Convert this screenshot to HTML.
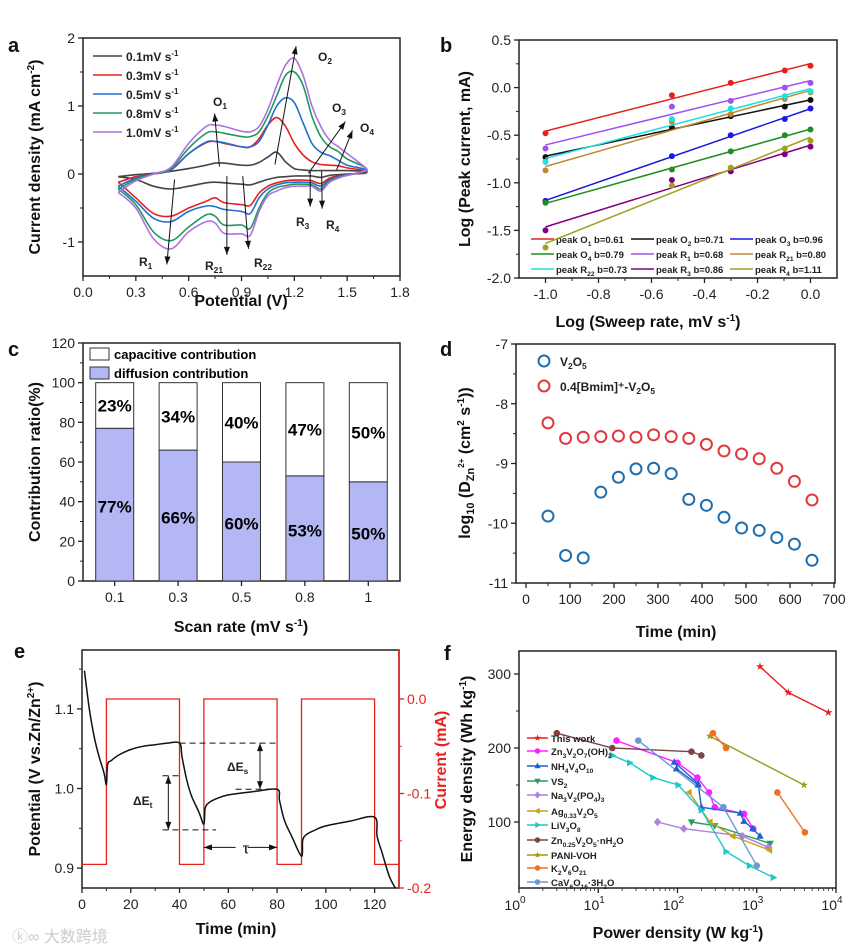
<!DOCTYPE html>
<html><head><meta charset="utf-8"><style>
html,body{margin:0;padding:0;background:#fff}
svg{display:block;font-family:"Liberation Sans","Noto Sans CJK SC",sans-serif}
.tk{font-size:14px;fill:#222}
.at{font-size:16px;font-weight:bold;fill:#111}
.pl{font-size:20px;font-weight:bold;fill:#111}
.lg{font-size:12px;font-weight:bold;fill:#222}
.ls{font-size:9.5px;font-weight:bold;fill:#222}
</style></head><body>
<svg id="fig" width="860" height="950" viewBox="0 0 860 950">
<text x="8" y="52" class="pl">a</text>
<text x="440" y="52" class="pl">b</text>
<text x="8" y="356" class="pl">c</text>
<text x="440" y="356" class="pl">d</text>
<text x="14" y="658" class="pl">e</text>
<text x="444" y="660" class="pl">f</text>

<text class="at" transform="translate(40,157) rotate(-90)" text-anchor="middle">Current density (mA cm<tspan font-size="10" dy="-6">-2</tspan><tspan dy="6">)</tspan></text>
<text class="at" x="241" y="306" text-anchor="middle">Potential (V)</text>
<text class="at" transform="translate(470,159) rotate(-90)" text-anchor="middle">Log (Peak current, mA)</text>
<text class="at" x="648" y="327" text-anchor="middle">Log (Sweep rate, mV s<tspan font-size="10" dy="-6">-1</tspan><tspan dy="6">)</tspan></text>
<text class="at" transform="translate(40,462) rotate(-90)" text-anchor="middle">Contribution ratio(%)</text>
<text class="at" x="241" y="632" text-anchor="middle">Scan rate (mV s<tspan font-size="10" dy="-6">-1</tspan><tspan dy="6">)</tspan></text>
<text class="at" transform="translate(470,463) rotate(-90)" text-anchor="middle">log<tspan font-size="11" dy="4">10</tspan><tspan dy="-4"> (D</tspan><tspan font-size="11" dy="4">Zn</tspan><tspan font-size="8" dy="-10">2+</tspan><tspan dy="6"> (cm</tspan><tspan font-size="10" dy="-6">2</tspan><tspan dy="6"> s</tspan><tspan font-size="10" dy="-6">-1</tspan><tspan dy="6">))</tspan></text>
<text class="at" x="676" y="637" text-anchor="middle">Time (min)</text>
<text class="at" transform="translate(40,769) rotate(-90)" text-anchor="middle">Potential (V vs.Zn/Zn<tspan font-size="10" dy="-6">2+</tspan><tspan dy="6">)</tspan></text>
<text class="at" transform="translate(446,760) rotate(-90)" text-anchor="middle" style="fill:#e8201c">Current (mA)</text>
<text class="at" x="236" y="934" text-anchor="middle">Time (min)</text>
<text class="at" transform="translate(472,769) rotate(-90)" text-anchor="middle">Energy density (Wh kg<tspan font-size="10" dy="-6">-1</tspan><tspan dy="6">)</tspan></text>
<text class="at" x="678" y="938" text-anchor="middle">Power density (W kg<tspan font-size="10" dy="-6">-1</tspan><tspan dy="6">)</tspan></text>
<text x="12" y="942" font-size="16" fill="#ccc">ⓚ∞ 大数跨境</text>
</svg>
<script>
// ---------- DATA ----------
// panel a
const cvE = [0.2,0.3,0.4,0.5,0.6,0.7,0.75,0.8,0.9,0.95,1.0,1.05,1.1,1.15,1.2,1.25,1.3,1.35,1.4,1.45,1.5,1.6];
const cvRates = ["0.1mV s","0.3mV s","0.5mV s","0.8mV s","1.0mV s"];
const cvAnodic01 = [-0.04,-0.01,0.01,0.04,0.08,0.13,0.16,0.16,0.13,0.13,0.17,0.25,0.32,0.18,0.08,0.06,0.05,0.05,0.05,0.05,0.05,0.04];
const cvCathodic01 = [-0.04,-0.08,-0.18,-0.22,-0.18,-0.13,-0.12,-0.13,-0.15,-0.16,-0.12,-0.08,-0.05,-0.04,-0.03,-0.03,-0.03,-0.05,-0.02,-0.01,0.0,0.01];
const cvAnodic03 = [-0.12,-0.04,0.0,0.06,0.30,0.46,0.48,0.45,0.40,0.40,0.52,0.72,0.83,0.70,0.45,0.28,0.18,0.14,0.13,0.12,0.09,0.05];
const cvCathodic03 = [-0.12,-0.35,-0.58,-0.62,-0.50,-0.40,-0.35,-0.42,-0.45,-0.46,-0.28,-0.18,-0.13,-0.10,-0.09,-0.09,-0.10,-0.14,-0.06,-0.03,-0.01,0.02];
const cvAnodic05 = [-0.18,-0.06,0.0,0.06,0.30,0.47,0.48,0.46,0.40,0.40,0.48,0.72,1.00,1.12,1.05,0.75,0.45,0.32,0.27,0.20,0.13,0.07];
const cvCathodic05 = [-0.18,-0.40,-0.65,-0.70,-0.55,-0.47,-0.48,-0.52,-0.55,-0.58,-0.35,-0.22,-0.16,-0.13,-0.12,-0.12,-0.13,-0.18,-0.08,-0.04,-0.01,0.03];
const cvAnodic08 = [-0.22,-0.08,0.0,0.08,0.38,0.60,0.62,0.60,0.55,0.55,0.62,0.85,1.15,1.45,1.50,1.30,0.85,0.55,0.40,0.33,0.22,0.10];
const cvCathodic08 = [-0.22,-0.45,-0.85,-0.98,-0.78,-0.60,-0.62,-0.75,-0.75,-0.80,-0.50,-0.28,-0.20,-0.17,-0.15,-0.15,-0.16,-0.22,-0.10,-0.05,-0.02,0.04];
const cvAnodic10 = [-0.27,-0.10,0.0,0.10,0.45,0.70,0.72,0.70,0.63,0.62,0.70,0.95,1.30,1.60,1.70,1.45,1.0,0.70,0.50,0.40,0.30,0.10];
const cvCathodic10 = [-0.27,-0.50,-0.95,-1.10,-0.85,-0.70,-0.72,-0.87,-0.88,-0.90,-0.55,-0.32,-0.25,-0.20,-0.18,-0.18,-0.18,-0.25,-0.12,-0.06,-0.02,0.05];
const aXTicks = [0,0.3,0.6,0.9,1.2,1.5,1.8];
const aYTicks = [-1,0,1,2];
// panel b
const bLogRate = [-1,-0.523,-0.301,-0.097,0];
const bNames = ["peak O|1| b=0.61","peak O|2| b=0.71","peak O|3| b=0.96","peak O|4| b=0.79","peak R|1| b=0.68","peak R|21| b=0.80","peak R|22| b=0.73","peak R|3| b=0.86","peak R|4| b=1.11"];
const bO1 = [-0.48,-0.08,0.05,0.18,0.23];
const bO2 = [-0.73,-0.42,-0.30,-0.20,-0.13];
const bO3 = [-1.19,-0.72,-0.50,-0.33,-0.22];
const bO4 = [-1.21,-0.86,-0.67,-0.50,-0.44];
const bR1 = [-0.64,-0.20,-0.14,0.0,0.05];
const bR21 = [-0.87,-0.36,-0.28,-0.12,-0.05];
const bR22 = [-0.78,-0.33,-0.22,-0.09,-0.04];
const bR3 = [-1.50,-0.97,-0.88,-0.70,-0.62];
const bR4 = [-1.68,-1.03,-0.84,-0.64,-0.56];
const bXTicks = [-1.0,-0.8,-0.6,-0.4,-0.2,0.0];
const bYTicks = [0.5,0.0,-0.5,-1.0,-1.5,-2.0];
// panel c
const cCats = ["0.1","0.3","0.5","0.8","1"];
const cDiffusion = [77,66,60,53,50];
const cCapacitive = [23,34,40,47,50];
const cYTicks = [0,20,40,60,80,100,120];
// panel d
const dTime = [50,90,130,170,210,250,290,330,370,410,450,490,530,570,610,650];
const dV2O5 = [-9.88,-10.54,-10.58,-9.48,-9.23,-9.09,-9.08,-9.17,-9.60,-9.70,-9.90,-10.08,-10.12,-10.24,-10.35,-10.62];
const dBmim = [-8.32,-8.58,-8.56,-8.55,-8.54,-8.56,-8.52,-8.55,-8.58,-8.68,-8.79,-8.84,-8.92,-9.08,-9.30,-9.61];
const dXTicks = [0,100,200,300,400,500,600,700];
const dYTicks = [-7,-8,-9,-10,-11];
// panel e
const eTime = [1,3,5,7,9,10,10.5,12,15,20,25,30,35,40,41,43,45,48,50,50.5,52,55,60,70,80,81,83,86,90,90.5,92,95,100,110,120,121,123,126,128.5];
const ePotential = [1.148,1.10,1.065,1.04,1.02,1.005,1.03,1.035,1.042,1.049,1.053,1.055,1.057,1.057,1.04,1.01,0.99,0.97,0.955,0.975,0.982,0.987,0.992,0.996,0.999,0.985,0.96,0.94,0.915,0.935,0.942,0.947,0.953,0.959,0.964,0.94,0.92,0.89,0.875];
const eCurTime = [0,10,10,40,40,50,50,80,80,90,90,120,120,130];
const eCurrent = [-0.175,-0.175,0,0,-0.175,-0.175,0,0,-0.175,-0.175,0,0,-0.175,-0.175];
const eXTicks = [0,20,40,60,80,100,120];
const eYTicks = [0.9,1.0,1.1];
const eRTicks = [0.0,-0.1,-0.2];
// panel f
const fNames = ["This work","Zn|3|V|2|O|7|(OH)|2","NH|4|V|4|O|10","VS|2","Na|3|V|2|(PO|4|)|3","Ag|0.33|V|2|O|5","LiV|3|O|8","Zn|0.25|V|2|O|5|·nH|2|O","PANI-VOH","K|2|V|6|O|21","CaV|6|O|16|·3H|2|O"];
const fThisP = [1100,2500,8000], fThisE = [310,275,248];
const fZnVP = [17,100,178,250,295,690,905], fZnVE = [210,180,160,140,120,111,91];
const fNH4P = [91,182,200,620,690,890,1100], fNH4E = [181,152,120,112,101,91,81];
const fNH4bP = [97,182], fNH4bE = [172,150];
const fVS2P = [150,295,1480], fVS2E = [100,95,71];
const fNaVP = [56,120,660,1400], fNaVE = [100,91,81,66];
const fAgP = [140,257,500,1450], fAgE = [140,100,81,62];
const fLiP = [15,25,49,102,200,410,810,1620], fLiE = [190,180,160,150,116,60,41,25];
const fZn25P = [3,15,150,200], fZn25E = [220,200,195,190];
const fPaniP = [257,3950], fPaniE = [216,150];
const fK1P = [280,410], fK1E = [220,200];
const fK2P = [1820,4050], fK2E = [140,86];
const fCaP = [32,380,1000], fCaE = [210,120,41];
const fYTicks = [100,200,300];
const fXExp = [0,1,2,3,4];

// ---------- HELPERS ----------
const NS = "http://www.w3.org/2000/svg";
const svg = document.getElementById("fig");
let curFrame = [0,0,860,950];
function mk(tag, attrs, parent){ const e = document.createElementNS(NS, tag); for (const k in attrs) e.setAttribute(k, attrs[k]); (parent||svg).appendChild(e); return e; }
function lin(d0,d1,r0,r1){ return v => r0 + (v-d0)/(d1-d0)*(r1-r0); }
function smooth(pts){ let d = "M"+pts[0][0].toFixed(1)+","+pts[0][1].toFixed(1);
  for (let i=0;i<pts.length-1;i++){ const p0=pts[Math.max(0,i-1)],p1=pts[i],p2=pts[i+1],p3=pts[Math.min(pts.length-1,i+2)];
    d += " C"+(p1[0]+(p2[0]-p0[0])/6).toFixed(1)+","+(p1[1]+(p2[1]-p0[1])/6).toFixed(1)+" "+(p2[0]-(p3[0]-p1[0])/6).toFixed(1)+","+(p2[1]-(p3[1]-p1[1])/6).toFixed(1)+" "+p2[0].toFixed(1)+","+p2[1].toFixed(1); }
  return d; }
function poly(pts){ return "M"+pts.map(p=>p[0].toFixed(1)+","+p[1].toFixed(1)).join(" L"); }
function frame(x0,y0,x1,y1,name){ curFrame=[x0,y0,x1,y1]; const r = mk("rect",{x:x0,y:y0,width:x1-x0,height:y1-y0,fill:"none",stroke:"#222","stroke-width":1.5});
  
   }
function subText(t, parent, x, y, cls, anchor){
  const tx = mk("text",{x:x,y:y,class:cls,"text-anchor":anchor||"start"},parent);
  const parts = t.split("|"); let sub=false;
  parts.forEach((p,i)=>{ if(!p){sub=!sub;return;} const ts = mk("tspan",{},tx); if(sub){ts.setAttribute("font-size","70%");ts.setAttribute("dy","3");} else if(i>0){ts.setAttribute("dy","-3");} ts.textContent=p; sub=!sub; });
  return tx; }
function xTicks(vals, sx, yb, fmt, minorStep, name, color){
  vals.forEach(v=>{ const l = mk("line",{x1:sx(v),x2:sx(v),y1:yb,y2:yb+5,stroke:color||"#222","stroke-width":1.3});
    
    
    const t = mk("text",{x:sx(v),y:yb+21,class:"tk","text-anchor":"middle"}); t.textContent = fmt(v);
    
    
    const mxp = minorStep!=null ? sx(v+minorStep) : -1;
    if (minorStep!=null && mxp>curFrame[0]+1 && mxp<curFrame[2]-1){ const m = mk("line",{x1:mxp,x2:mxp,y1:yb,y2:yb+3,stroke:"#222","stroke-width":1});
      
       } });
}
function yTicks(vals, sy, xl, fmt, minorStep, name, right, color){
  const dir = right?1:-1;
  vals.forEach(v=>{ const l = mk("line",{x1:xl,x2:xl+dir*5,y1:sy(v),y2:sy(v),stroke:color||"#222","stroke-width":1.3});
    
    
    const t = mk("text",{x:xl+dir*8,y:sy(v)+5,class:"tk","text-anchor":right?"start":"end"}); t.textContent = fmt(v);
    if (color) t.setAttribute("style","fill:"+color);
    
    
    const myp = minorStep!=null ? sy(v+minorStep) : -1;
    if (minorStep!=null && myp>curFrame[1]+1 && myp<curFrame[3]-1){ const m = mk("line",{x1:xl,x2:xl+dir*3,y1:myp,y2:myp,stroke:color||"#222","stroke-width":1});
      
       } });
}
function arrow(x1,y1,x2,y2,name,both){ const ln = mk("line",{x1:x1,y1:y1,x2:x2,y2:y2,stroke:"#111","stroke-width":1});
  
  
  const heads = both?[[x1,y1,x2,y2],[x2,y2,x1,y1]]:[[x1,y1,x2,y2]];
  heads.forEach(h=>{ const a=Math.atan2(h[3]-h[1],h[2]-h[0]), L=8, W=3;
    const p=[[h[2],h[3]],[h[2]-L*Math.cos(a)+W*Math.sin(a),h[3]-L*Math.sin(a)-W*Math.cos(a)],[h[2]-L*Math.cos(a)-W*Math.sin(a),h[3]-L*Math.sin(a)+W*Math.cos(a)]];
    const hd = mk("polygon",{points:p.map(q=>q.join(",")).join(" "),fill:"#111"});
    
     }); }

// ---------- PANEL A ----------
const ax = lin(0,1.8,83,400), ay = lin(-1.5,2,276,38);
frame(83,38,400,276,"a-plot-frame");
xTicks(aXTicks, ax, 276, v=>v.toFixed(1), 0.15, "a-x");
yTicks(aYTicks, ay, 83, v=>String(v), 0.5, "a-y");
const cvAn = [cvAnodic01,cvAnodic03,cvAnodic05,cvAnodic08,cvAnodic10];
const cvCa = [cvCathodic01,cvCathodic03,cvCathodic05,cvCathodic08,cvCathodic10];
const cvColors = ["#444","#e8201c","#1f6fd0","#1f9a5a","#b070e0"];
cvAn.forEach((an,i)=>{
  const pts = cvE.map((e,j)=>[ax(e),ay(an[j])]).concat(cvE.slice().reverse().map((e,j)=>[ax(e),ay(cvCa[i][cvE.length-1-j])]));
  const p = mk("path",{d:smooth(pts),fill:"none",stroke:cvColors[i],"stroke-width":1.6});
  
  
  const ly = 56 + i*19;
  const ll = mk("line",{x1:93,x2:122,y1:ly,y2:ly,stroke:cvColors[i],"stroke-width":1.6});
  
  
  const lt = mk("text",{x:126,y:ly+5,class:"lg"}); lt.textContent = cvRates[i];
  const sup = mk("tspan",{dy:-5,"font-size":8},lt); sup.textContent="-1";
  
  
});
arrow(ax(0.775),ay(0.11),ax(0.747),ay(0.89),"arrow-o1");
arrow(ax(1.09),ay(0.14),ax(1.21),ay(1.88),"arrow-o2");
arrow(ax(1.28),ay(0.01),ax(1.49),ay(0.77),"arrow-o3");
arrow(ax(1.44),ay(0.06),ax(1.53),ay(0.64),"arrow-o4");
arrow(ax(0.52),ay(-0.08),ax(0.476),ay(-1.33),"arrow-r1");
arrow(ax(0.817),ay(-0.03),ax(0.817),ay(-1.19),"arrow-r21");
arrow(ax(0.907),ay(-0.03),ax(0.94),ay(-1.10),"arrow-r22");
arrow(ax(1.29),ay(0.04),ax(1.29),ay(-0.48),"arrow-r3");
arrow(ax(1.355),ay(0.04),ax(1.358),ay(-0.51),"arrow-r4");
[["O|2|",318,61],["O|1|",213,106],["O|3|",332,112],["O|4|",360,132],["R|3|",296,226],["R|4|",326,229],["R|1|",139,266],["R|21|",205,270],["R|22|",254,267]].forEach(a=>{
  const t = subText(a[0], svg, a[1], a[2], "lg");
  t.setAttribute("font-size","14");
  
  
});

// ---------- PANEL B ----------
const bx = lin(-1.1,0.1,519,837), by = lin(-2,0.5,278,40);
frame(519,40,837,278,"b-plot-frame");
xTicks(bXTicks, bx, 278, v=>v.toFixed(1), 0.1, "b-x");
yTicks(bYTicks, by, 519, v=>v.toFixed(1), 0.25, "b-y");
const bSeries = [bO1,bO2,bO3,bO4,bR1,bR21,bR22,bR3,bR4];
const bColors = ["#e8201c","#111","#1a1adf","#1f8f1f","#a050f0","#c08a30","#20e0e0","#800080","#a0a020"];
bSeries.forEach((s,i)=>{
  const n=bLogRate.length, mx=bLogRate.reduce((a,b)=>a+b)/n, my=s.reduce((a,b)=>a+b)/n;
  let sxy=0,sxx=0; bLogRate.forEach((x,j)=>{sxy+=(x-mx)*(s[j]-my);sxx+=(x-mx)*(x-mx);});
  const k=sxy/sxx, c=my-k*mx;
  const l = mk("line",{x1:bx(-1),y1:by(k*-1+c),x2:bx(0),y2:by(c),stroke:bColors[i],"stroke-width":1.5});
  
  
  s.forEach((v,j)=>{ const d = mk("circle",{cx:bx(bLogRate[j]),cy:by(v),r:3,fill:bColors[i]});
    
     });
  const col=i%3,row=Math.floor(i/3), lx=[531,631,730][col], lyy=239+row*15;
  const ll = mk("line",{x1:lx,x2:lx+23,y1:lyy,y2:lyy,stroke:bColors[i],"stroke-width":1.5});
  
  
  const lt = subText(bNames[i], svg, lx+25, lyy+4, "ls");
  
  
});

// ---------- PANEL C ----------
const cy = lin(0,120,581,343), band = (400-83)/cCats.length, cx = i=>83+band*(i+0.5);
frame(83,343,400,581,"c-plot-frame");
yTicks(cYTicks, cy, 83, v=>String(v), 10, "c-y");
cCats.forEach((c,i)=>{
  const tk = mk("line",{x1:cx(i),x2:cx(i),y1:581,y2:586,stroke:"#222","stroke-width":1.3});
  
  
  const t = mk("text",{x:cx(i),y:602,class:"tk","text-anchor":"middle"}); t.textContent=c;
  
  
  const w=38, d=cDiffusion[i], p=cCapacitive[i];
  const b1 = mk("rect",{x:cx(i)-w/2,y:cy(d),width:w,height:cy(0)-cy(d),fill:"#b3b8f5",stroke:"#333","stroke-width":1});
  
  
  const b2 = mk("rect",{x:cx(i)-w/2,y:cy(d+p),width:w,height:cy(d)-cy(d+p),fill:"#fff",stroke:"#333","stroke-width":1});
  
  
  const t1 = mk("text",{x:cx(i),y:(cy(d)+cy(0))/2+8,"text-anchor":"middle","font-size":17,"font-weight":"bold"}); t1.textContent=d+"%";
  
  
  const t2 = mk("text",{x:cx(i),y:(cy(d)+cy(d+p))/2+6,"text-anchor":"middle","font-size":17,"font-weight":"bold"}); t2.textContent=p+"%";
  
  
});
[["capacitive contribution","#fff",348],["diffusion contribution","#b3b8f5",367]].forEach(l=>{
  const r = mk("rect",{x:90,y:l[2],width:19,height:12,fill:l[1],stroke:"#333"});
  
  
  const t = mk("text",{x:114,y:l[2]+11,"font-size":13,"font-weight":"bold"}); t.textContent=l[0];
  
  
});

// ---------- PANEL D ----------
const dx = lin(0,700,526,834), dy = lin(-11,-7,583,344);
frame(516,344,835,583,"d-plot-frame");
xTicks(dXTicks, dx, 583, v=>String(v), 50, "d-x");
yTicks(dYTicks, dy, 516, v=>String(v), 0.5, "d-y");
[[dV2O5,"#1f6faf"],[dBmim,"#e0393e"]].forEach((s,k)=>{
  s[0].forEach((v,j)=>{ const c = mk("circle",{cx:dx(dTime[j]),cy:dy(v),r:5.5,fill:"none",stroke:s[1],"stroke-width":2});
    
     });
  const lc = mk("circle",{cx:544,cy:361+k*25,r:5.5,fill:"none",stroke:s[1],"stroke-width":2});
  
  
});
const dl1 = subText("V|2|O|5|", svg, 560, 366, "lg"); dl1.setAttribute("font-size","14");


const dl2 = subText("0.4[Bmim]⁺-V|2|O|5|", svg, 560, 391, "lg"); dl2.setAttribute("font-size","14");



// ---------- PANEL E ----------
const ex = lin(0,130,82,399), ey = lin(0.875,1.174,888,650), ery = lin(-0.2,0.0,888,699);
frame(82,650,399,888,"e-plot-frame");
const rAx = mk("line",{x1:399,x2:399,y1:650,y2:888,stroke:"#e8201c","stroke-width":1.5});


xTicks(eXTicks, ex, 888, v=>String(v), 10, "e-x");
yTicks(eYTicks, ey, 82, v=>v.toFixed(1), 0.05, "e-y");
yTicks(eRTicks, ery, 399, v=>v.toFixed(1), -0.05, "e-right", true, "#e8201c");
const cur = mk("path",{d:poly(eCurTime.map((t,j)=>[ex(t),ery(eCurrent[j])])),fill:"none",stroke:"#e8201c","stroke-width":1.3});


const pot = mk("path",{d:smooth(eTime.map((t,j)=>[ex(t),ey(ePotential[j])])),fill:"none",stroke:"#111","stroke-width":1.5});


[[40,80,1.057],[63,80,0.999],[33,41,1.016],[33,55,0.948]].forEach(d=>{
  const l = mk("line",{x1:ex(d[0]),x2:ex(d[1]),y1:ey(d[2]),y2:ey(d[2]),stroke:"#111","stroke-width":1,"stroke-dasharray":"6,4"});
  
  
});
arrow(ex(73),ey(1.057),ex(73),ey(0.999),"delta-es-arrow",true);
arrow(ex(35.4),ey(1.016),ex(35.4),ey(0.948),"delta-et-arrow",true);
arrow(ex(50),ey(0.926),ex(80),ey(0.926),"tau-arrow",true);
const es = mk("rect",{x:ex(63),y:ey(0.926)-8,width:12,height:16,fill:"#fff"});


const tau = mk("text",{x:ex(65)+2,y:ey(0.926)+6,"font-size":17,"font-family":"Liberation Serif, serif"}); tau.textContent="τ";


const tEs = subText("ΔE|s|", svg, 227, 771, "lg"); tEs.setAttribute("font-size","17"); tEs.setAttribute("font-weight","normal");


const tEt = subText("ΔE|t|", svg, 133, 805, "lg"); tEt.setAttribute("font-size","17"); tEt.setAttribute("font-weight","normal");



// ---------- PANEL F ----------
const fx = v=>519+Math.log10(v)/4*(836-519), fy = lin(100,200,822,748);
frame(519,651,836,888,"f-plot-frame");
yTicks(fYTicks, fy, 519, v=>String(v), 50, "f-y");
fXExp.forEach(e=>{
  const v=Math.pow(10,e);
  const l = mk("line",{x1:fx(v),x2:fx(v),y1:888,y2:893,stroke:"#222","stroke-width":1.3});
  
  
  if (e<4) for(let m=2;m<10;m++){ const ml = mk("line",{x1:fx(m*v),x2:fx(m*v),y1:888,y2:891,stroke:"#222","stroke-width":0.8});
    
     }
  const t = mk("text",{x:fx(v)-4,y:910,class:"tk","text-anchor":"middle"}); t.textContent="10";
  const s = mk("tspan",{dy:-7,"font-size":10},t); s.textContent=String(e);
  
  
});
const fSeries = [[fThisP,fThisE,"#e8201c","star"],[fZnVP,fZnVE,"#ff20ff","circle"],[fNH4P,fNH4E,"#2060d0","tri"],[fVS2P,fVS2E,"#2a9d5a","dtri"],[fNaVP,fNaVE,"#b07fe0","diamond"],[fAgP,fAgE,"#c8a020","ltri"],[fLiP,fLiE,"#1ec8c8","rtri"],[fZn25P,fZn25E,"#7b4545","circle"],[fPaniP,fPaniE,"#9a9a20","star"],[fK1P,fK1E,"#f07020","circle"],[fCaP,fCaE,"#6a9ad0","circle"],[fK2P,fK2E,"#f07020","circle"],[fNH4bP,fNH4bE,"#2060d0","tri"]];
function marker(shape,x,y,c,r){
  let pts;
  if(shape==="circle") return mk("circle",{cx:x,cy:y,r:r,fill:c});
  if(shape==="tri") pts=[[0,-1.2],[1.1,0.8],[-1.1,0.8]];
  if(shape==="dtri") pts=[[0,1.2],[1.1,-0.8],[-1.1,-0.8]];
  if(shape==="ltri") pts=[[-1.2,0],[0.8,1.1],[0.8,-1.1]];
  if(shape==="rtri") pts=[[1.2,0],[-0.8,1.1],[-0.8,-1.1]];
  if(shape==="diamond") pts=[[0,-1.3],[1.1,0],[0,1.3],[-1.1,0]];
  if(shape==="star"){ pts=[]; for(let k=0;k<10;k++){const a=-Math.PI/2+k*Math.PI/5, rr=k%2?0.5:1.3; pts.push([rr*Math.cos(a),rr*Math.sin(a)]);} }
  return mk("polygon",{points:pts.map(p=>(x+p[0]*r).toFixed(1)+","+(y+p[1]*r).toFixed(1)).join(" "),fill:c});
}
fSeries.forEach((s,i)=>{
  const l = mk("path",{d:poly(s[0].map((p,j)=>[fx(p),fy(s[1][j])])),fill:"none",stroke:s[2],"stroke-width":1.4});
  
  
  s[0].forEach((p,j)=>{ const m = marker(s[3],fx(p),fy(s[1][j]),s[2],3.3);
    
     });
});
fNames.forEach((n,i)=>{
  const s=fSeries[i], ly=[738,751,766,781,795,811,825,840,855,868,882][i];
  const l = mk("line",{x1:527,x2:548,y1:ly,y2:ly,stroke:s[2],"stroke-width":1.4});
  
  
  const m = marker(s[3],537.5,ly,s[2],2.8);
  
  
  const t = subText(n, svg, 551, ly+4, "ls");
  
  
});
</script>
</body></html>
